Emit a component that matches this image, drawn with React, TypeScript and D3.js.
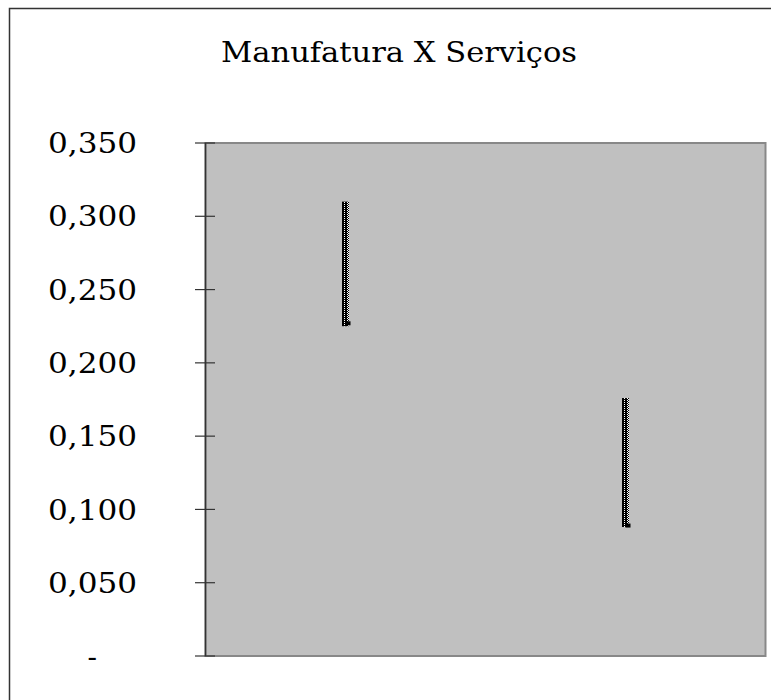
import React from "react";
import * as d3 from "d3";

// High-low-close values for each sector
const categories = ["Manufatura", "Serviços"];
const highValues = [0.31, 0.176];
const lowValues = [0.225, 0.088];
const closeValues = [0.227, 0.089];
const yTicks = [0, 0.05, 0.1, 0.15, 0.2, 0.25, 0.3, 0.35];
const title = "Manufatura X Serviços";

const W = 771;
const H = 700;
const plot = { left: 205.5, top: 143, right: 765.5, bottom: 656 };
const FONT = "'DejaVu Serif', 'Liberation Serif', serif";

const fmt = (v: number) => (v === 0 ? "-" : d3.format(".3f")(v).replace(".", ","));

export default function App() {
  const x = d3
    .scaleBand<string>()
    .domain(categories)
    .range([plot.left, plot.right])
    .paddingInner(0)
    .paddingOuter(0);
  const y = d3.scaleLinear().domain([0, 0.35]).range([plot.bottom, plot.top]);
  const barW = 7;

  return (
    <svg
      width={W}
      height={H}
      style={{ position: "absolute", left: 0, top: 0, background: "#fff" }}
    >
      <defs>
        <pattern id="hlFill" width={7} height={2} patternUnits="userSpaceOnUse">
          <rect width={7} height={2} fill="#000" />
          <rect x={1} y={0} width={1} height={1} fill="#fff" />
          <rect x={4} y={0} width={1} height={1} fill="#fff" />
          <rect x={5} y={1} width={1} height={1} fill="#fff" />
        </pattern>
      </defs>
      {/* chart frame */}
      <rect x={9.5} y={8.5} width={800} height={740} fill="#fff" stroke="#333" strokeWidth={1.5} />
      <text
        x={399}
        y={62}
        textAnchor="middle"
        fontFamily={FONT}
        fontSize={28}
        fill="#000"
        textLength={356}
        lengthAdjust="spacingAndGlyphs"
      >
        {title}
      </text>
      {/* plot area */}
      <rect
        x={plot.left}
        y={plot.top}
        width={plot.right - plot.left}
        height={plot.bottom - plot.top}
        fill="#c0c0c0"
        stroke="#888"
        strokeWidth={2}
      />
      <line x1={plot.left} x2={plot.left} y1={plot.top} y2={plot.bottom} stroke="#333" strokeWidth={1.5} />
      {yTicks.map((t) => (
        <g key={t}>
          <line x1={195} x2={215} y1={y(t)} y2={y(t)} stroke="#333" strokeWidth={1.2} />
          {t === 0 ? (
            <text x={97} y={y(t)} dy="0.36em" textAnchor="end" fontFamily={FONT} fontSize={28} fill="#000">
              {fmt(t)}
            </text>
          ) : (
            <text
              x={137}
              y={y(t)}
              dy="0.36em"
              textAnchor="end"
              fontFamily={FONT}
              fontSize={28}
              fill="#000"
              textLength={89}
              lengthAdjust="spacingAndGlyphs"
            >
              {fmt(t)}
            </text>
          )}
        </g>
      ))}
      {categories.map((c, i) => {
        const cx = (x(c) as number) + x.bandwidth() / 2;
        return (
          <g key={c}>
            <rect
              x={cx - barW / 2}
              y={y(highValues[i])}
              width={barW}
              height={y(lowValues[i]) - y(highValues[i])}
              fill="url(#hlFill)"
            />
            <rect x={cx} y={y(closeValues[i]) - 2} width={5} height={4} fill="#000" />
          </g>
        );
      })}
    </svg>
  );
}
